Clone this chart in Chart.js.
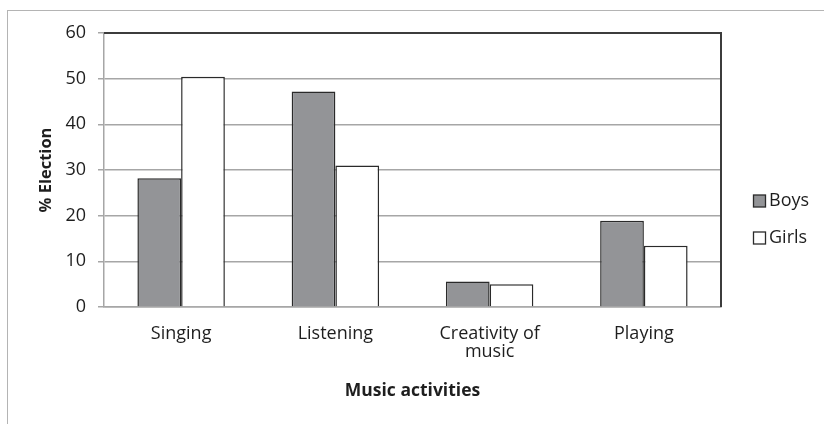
<!DOCTYPE html>
<html>
<head>
<meta charset="utf-8">
<script src="https://cdn.jsdelivr.net/npm/chart.js@4.4.0/dist/chart.umd.min.js"></script>
<style>
    html, body { margin: 0; padding: 0; background: #fff; overflow: hidden; }
    #wrap { position: relative; width: 824px; height: 424px; }
    #frame { position: absolute; left: 7px; top: 10px; width: 840px; height: 440px; border: 1px solid #b4b4b4; }
    canvas { position: absolute; left: 0; top: 0; }
</style>
</head>
<body>
<div id="wrap">
    <div id="frame"></div>
    <canvas id="musicChart" width="824" height="424"></canvas>
</div>
<script>
// Chart data
const categories = ['Singing', 'Listening', ['Creativity of', 'music'], 'Playing'];
const seriesNames = ['Boys', 'Girls'];
const boysValues = [28.2, 47.2, 5.6, 18.9];
const girlsValues = [50.4, 31.0, 5.0, 13.4];
const yTicks = [0, 10, 20, 30, 40, 50, 60];

const FONT = "'Open Sans', sans-serif";

// Dark frame on the top and right sides of the plot area
const plotFrame = {
    id: 'plotFrame',
    afterDatasetsDraw(chart) {
        const { ctx, chartArea } = chart;
        ctx.save();
        ctx.strokeStyle = '#3c3c3c';
        ctx.lineWidth = 2;
        ctx.beginPath();
        ctx.moveTo(chartArea.left, chartArea.top);
        ctx.lineTo(chartArea.right, chartArea.top);
        ctx.lineTo(chartArea.right, chartArea.bottom);
        ctx.stroke();
        ctx.restore();
    }
};

// Legend drawn at fixed spot to the right of the plot
const sideLegend = {
    id: 'sideLegend',
    afterDraw(chart) {
        const { ctx } = chart;
        ctx.save();
        ctx.font = '18px ' + FONT;
        ctx.textBaseline = 'middle';
        chart.data.datasets.forEach((ds, i) => {
            const y = 201 + i * 37;
            ctx.fillStyle = ds.backgroundColor;
            ctx.fillRect(753.5, y - 6, 12, 12);
            ctx.strokeStyle = '#2a2a2a';
            ctx.lineWidth = 1.3;
            ctx.strokeRect(753.5, y - 6, 12, 12);
            ctx.fillStyle = '#1e1e1e';
            ctx.fillText(ds.label, 769, y);
        });
        ctx.restore();
    }
};

const ctx = document.getElementById('musicChart').getContext('2d');
new Chart(ctx, {
    type: 'bar',
    data: {
        labels: categories,
        datasets: [{
            label: seriesNames[0],
            data: boysValues,
            backgroundColor: '#939497',
            borderColor: '#2a2a2a',
            borderWidth: 1.5,
            borderSkipped: 'bottom'
        }, {
            label: seriesNames[1],
            data: girlsValues,
            backgroundColor: '#ffffff',
            borderColor: '#2a2a2a',
            borderWidth: 1.5,
            borderSkipped: 'bottom'
        }]
    },
    options: {
        responsive: false,
        animation: false,
        devicePixelRatio: 1,
        categoryPercentage: 0.567,
        barPercentage: 1,
        layout: {
            padding: { top: 33, right: 103, bottom: 0, left: 0 }
        },
        plugins: {
            legend: { display: false },
            tooltip: { enabled: false }
        },
        scales: {
            x: {
                afterFit: function(scale) { scale.height = 117; },
                grid: { display: false, drawTicks: false },
                border: { color: '#a6a6a6', width: 1.5 },
                ticks: {
                    color: '#1e1e1e',
                    padding: 17,
                    font: { family: FONT, size: 18, lineHeight: 1.05 }
                },
                title: {
                    display: true,
                    text: 'Music activities',
                    color: '#1e1e1e',
                    padding: { top: 0, bottom: 22 },
                    font: { family: FONT, size: 17.5, weight: 'bold' }
                }
            },
            y: {
                min: 0,
                max: 60,
                afterFit: function(scale) { scale.width = 104; },
                afterBuildTicks: function(scale) {
                    scale.ticks = yTicks.map(v => ({ value: v }));
                },
                grid: {
                    color: '#a6a6a6',
                    lineWidth: 1.5,
                    tickLength: 6
                },
                border: { color: '#a6a6a6', width: 1.5 },
                ticks: {
                    color: '#1e1e1e',
                    padding: 12,
                    font: { family: FONT, size: 18 }
                },
                title: {
                    display: true,
                    text: '% Election',
                    color: '#1e1e1e',
                    padding: { top: 36, bottom: 0 },
                    font: { family: FONT, size: 16.5, weight: 'bold' }
                }
            }
        }
    },
    plugins: [plotFrame, sideLegend]
});
</script>
</body>
</html>
